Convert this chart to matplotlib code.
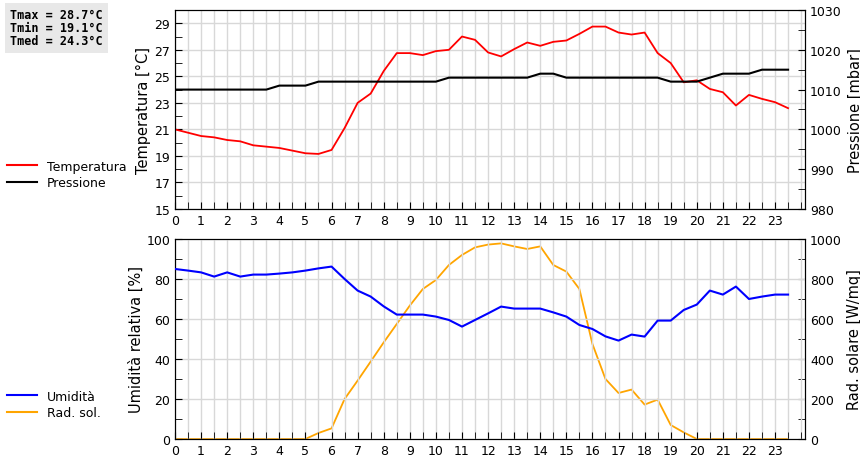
import numpy as np
import matplotlib.pyplot as plt
from matplotlib.ticker import MultipleLocator, FixedLocator
from matplotlib.lines import Line2D

hours = np.arange(48) * 0.5

temperatura = [21.0, 20.75, 20.5, 20.4, 20.2, 20.1, 19.8, 19.7, 19.6, 19.4, 19.2, 19.15,
               19.45, 21.1, 23.0, 23.7, 25.4, 26.75, 26.75, 26.6, 26.9, 27.0, 28.0, 27.75,
               26.8, 26.5, 27.05, 27.55, 27.3, 27.6, 27.7, 28.2, 28.75, 28.75, 28.3, 28.15,
               28.3, 26.75, 26.0, 24.55, 24.7, 24.05, 23.8, 22.8, 23.6, 23.3, 23.05, 22.6]
pressione = [1010, 1010, 1010, 1010, 1010, 1010, 1010, 1010, 1011, 1011, 1011, 1012,
             1012, 1012, 1012, 1012, 1012, 1012, 1012, 1012, 1012, 1013, 1013, 1013,
             1013, 1013, 1013, 1013, 1014, 1014, 1013, 1013, 1013, 1013, 1013, 1013,
             1013, 1013, 1012, 1012, 1012, 1013, 1014, 1014, 1014, 1015, 1015, 1015]
umidita = [85, 84.2, 83.3, 81.2, 83.3, 81.2, 82.2, 82.2, 82.7, 83.3, 84.2, 85.3,
           86.2, 80, 74.2, 71.2, 66.3, 62.2, 62.2, 62.2, 61.2, 59.5, 56.2, 59.5,
           62.8, 66.2, 65.2, 65.2, 65.2, 63.3, 61.2, 57, 55, 51.3, 49.2, 52.2,
           51.2, 59.2, 59.2, 64.5, 67.2, 74.2, 72.2, 76.2, 70, 71.2, 72.2, 72.2]
rad_sol = [0, 0, 0, 0, 0, 0, 0, 0, 0, 0, 0, 30,
           53, 200, 292, 387, 483, 575, 667, 750, 795, 870, 920, 958,
           972, 978, 963, 950, 963, 870, 837, 750, 475, 300, 230, 247,
           172, 197, 70, 33, 0, 0, 0, 0, 0, 0, 0, 0]

info = "Tmax = 28.7°C\nTmin = 19.1°C\nTmed = 24.3°C"

fig = plt.figure(figsize=(8.6, 4.6), dpi=100)
ax1 = fig.add_axes([0.2035, 0.5435, 0.7326, 0.4326])
ax2 = fig.add_axes([0.2035, 0.0435, 0.7326, 0.4348])


def style(ax, axr):
    ax.set_xlim(0, 24.15)
    ax.xaxis.set_major_locator(FixedLocator(range(24)))
    ax.xaxis.set_minor_locator(MultipleLocator(0.5))
    ax.grid(True, which='both', axis='x', color='#d8d8d8', lw=1)
    ax.grid(True, which='major', axis='y', color='#d8d8d8', lw=1)
    ax.set_axisbelow(True)
    for a in (ax, axr):
        a.tick_params(which='both', direction='in', length=5, labelsize=9)


ax1r = ax1.twinx()
ax1.plot(hours, temperatura, color='#ff0000', lw=1.3, zorder=3)
ax1r.plot(hours, pressione, color='black', lw=1.5)
ax1.set_ylim(15, 30)
ax1.set_yticks(np.arange(15, 30, 2))
ax1.yaxis.set_minor_locator(MultipleLocator(1))
ax1r.set_ylim(980, 1030)
ax1r.yaxis.set_major_locator(MultipleLocator(10))
ax1r.yaxis.set_minor_locator(MultipleLocator(5))
ax1.set_ylabel("Temperatura [°C]", fontsize=10.5, labelpad=2)
ax1r.set_ylabel("Pressione [mbar]", fontsize=10.5, labelpad=4)
style(ax1, ax1r)

ax2r = ax2.twinx()
ax2r.plot(hours, rad_sol, color='orange', lw=1.3)
ax2.plot(hours, umidita, color='#0000ff', lw=1.5, zorder=3)
ax2.set_zorder(ax2r.get_zorder() + 1)
ax2.patch.set_visible(False)
ax2.set_ylim(0, 100)
ax2.yaxis.set_major_locator(MultipleLocator(20))
ax2.yaxis.set_minor_locator(MultipleLocator(10))
ax2r.set_ylim(0, 1000)
ax2r.yaxis.set_major_locator(MultipleLocator(200))
ax2r.yaxis.set_minor_locator(MultipleLocator(100))
ax2.set_ylabel("Umidità relativa [%]", fontsize=10.5, labelpad=2)
ax2r.set_ylabel("Rad. solare [W/mq]", fontsize=10.5, labelpad=4)
style(ax2, ax2r)

fig.legend([Line2D([], [], color='#ff0000'), Line2D([], [], color='black')],
           ["Temperatura", "Pressione"], loc='upper left', bbox_to_anchor=(-0.005, 0.675),
           frameon=False, handlelength=2.4, fontsize=9, labelspacing=0.25)
fig.legend([Line2D([], [], color='#0000ff'), Line2D([], [], color='orange')],
           ["Umidità", "Rad. sol."], loc='upper left', bbox_to_anchor=(-0.005, 0.175),
           frameon=False, handlelength=2.4, fontsize=9, labelspacing=0.25)

fig.text(0.012, 0.98, info, family='DejaVu Sans Mono', weight='bold', fontsize=8.5,
         va='top', ha='left', linespacing=1.0,
         bbox=dict(facecolor='#e8e8e8', edgecolor='none', pad=4))

fig.savefig("out.png", dpi=100)
